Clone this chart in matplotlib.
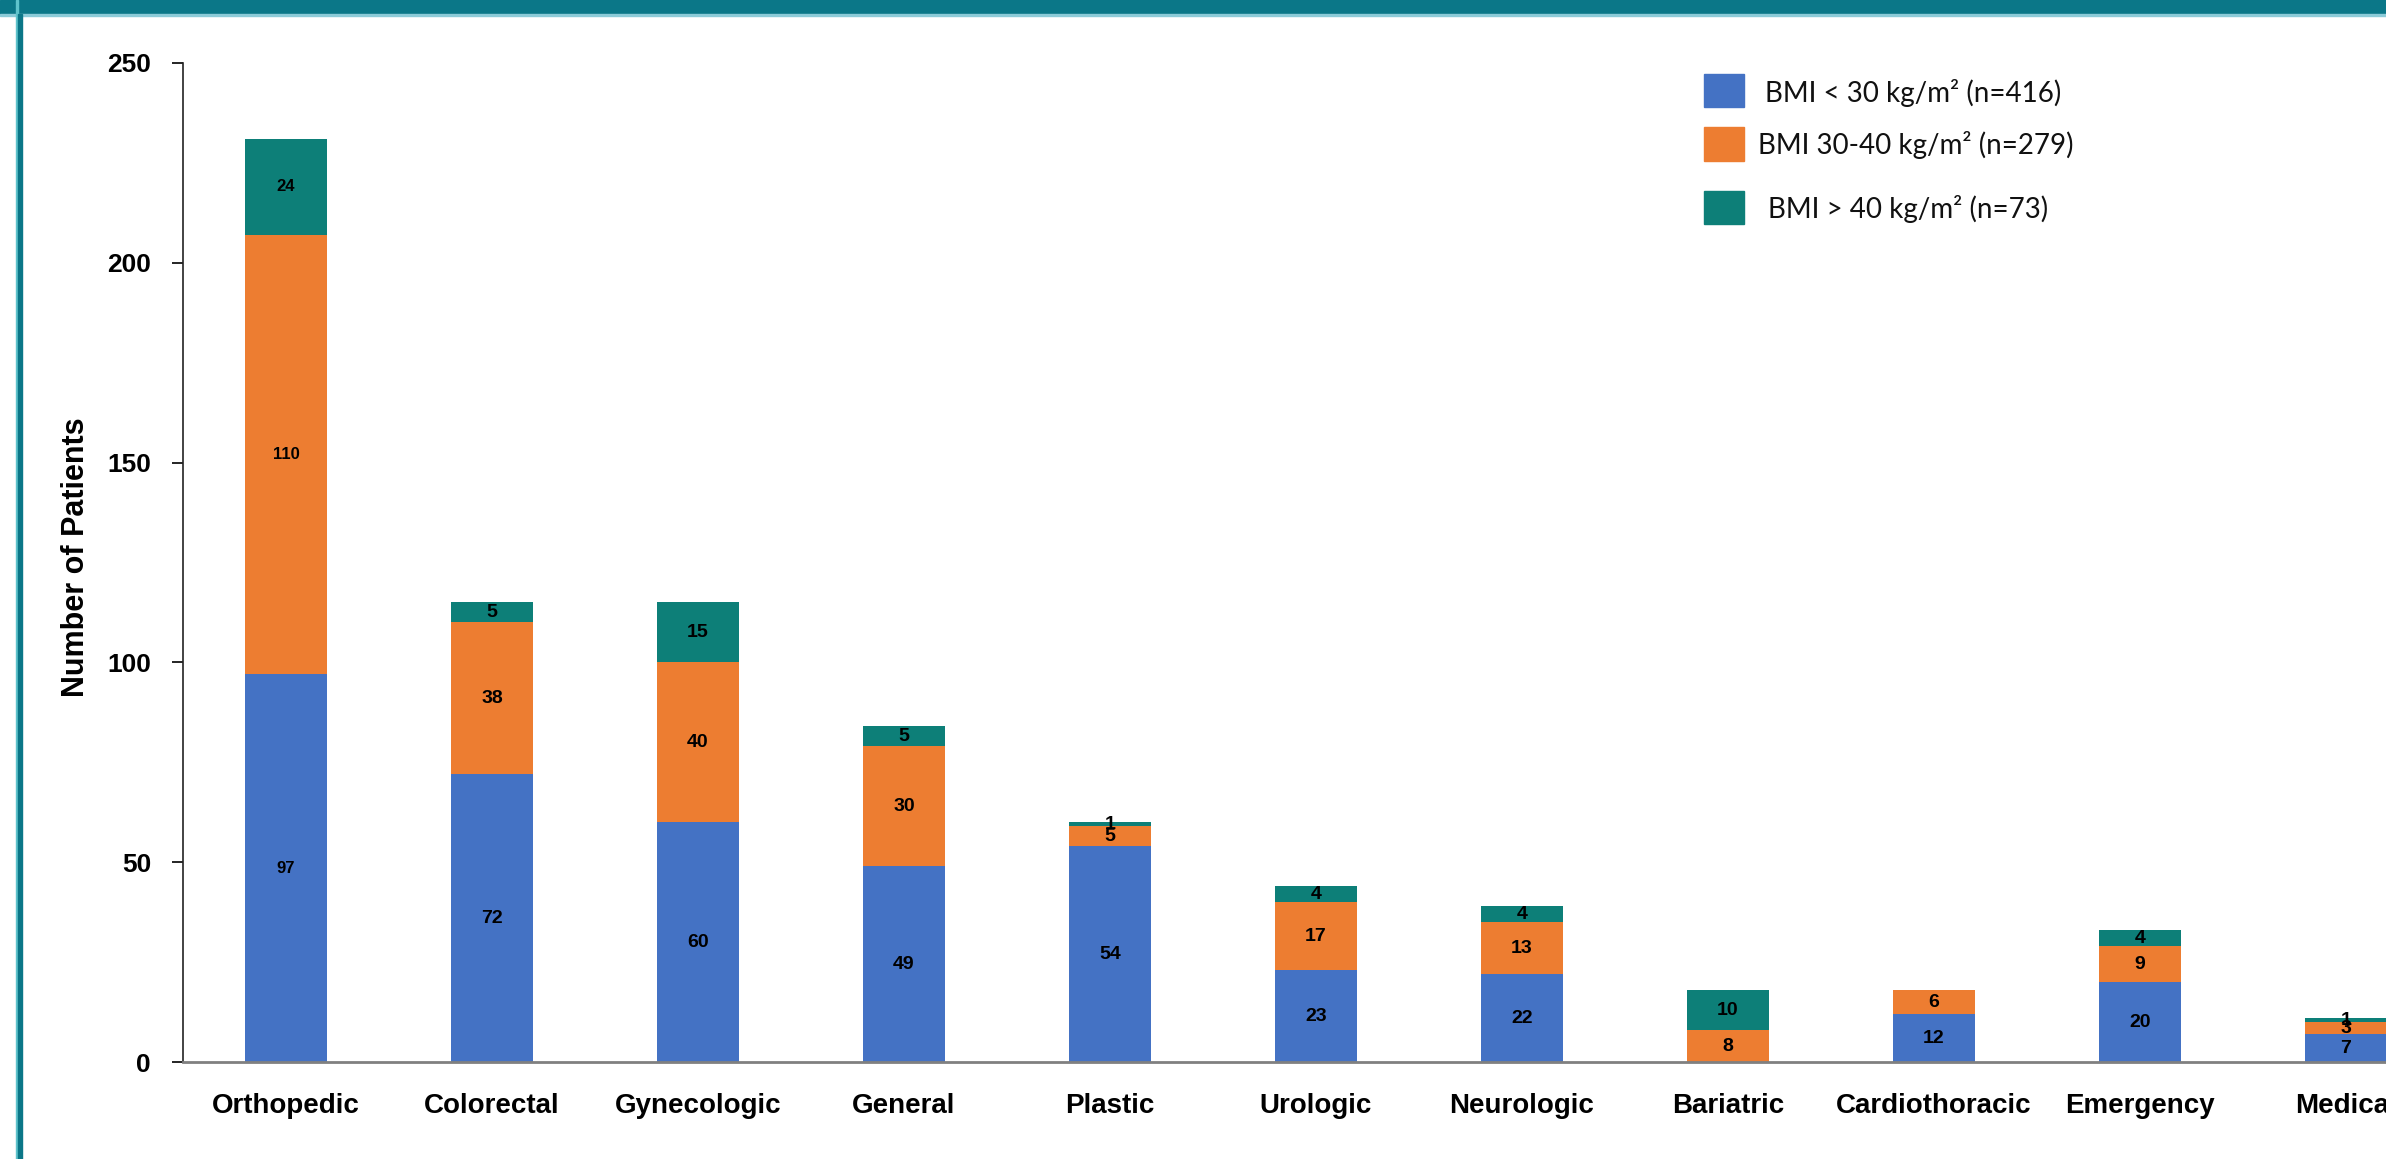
import matplotlib
matplotlib.use("Agg")
import matplotlib.pyplot as plt
from matplotlib import font_manager
from matplotlib.patches import Rectangle

# Patients per surgical service, split by BMI class
services = ["Orthopedic", "Colorectal", "Gynecologic", "General", "Plastic", "Urologic",
            "Neurologic", "Bariatric", "Cardiothoracic", "Emergency", "Medical"]
bmi_under_30 = [97, 72, 60, 49, 54, 23, 22, 0, 12, 20, 7]
bmi_30_40 = [110, 38, 40, 30, 5, 17, 13, 8, 6, 9, 3]
bmi_over_40 = [24, 5, 15, 5, 1, 4, 4, 10, 0, 4, 1]
series_labels = ["BMI < 30 kg/m\u00b2 (n=416)", "BMI 30-40 kg/m\u00b2 (n=279)", "BMI > 40 kg/m\u00b2 (n=73)"]
y_ticks = [0, 50, 100, 150, 200, 250]

BLUE = "#4472C4"
ORANGE = "#ED7D31"
TEAL = "#0D7F78"
FRAME = "#0B7788"
W, H = 2386, 1159

installed = {f.name for f in font_manager.fontManager.ttflist}
NARROW = "Liberation Sans Narrow" if "Liberation Sans Narrow" in installed else "Liberation Sans"
SANS = "Liberation Sans"
LEGEND_FONT = "Lato" if "Lato" in installed else "Open Sans"

fig = plt.figure(figsize=(W / 100, H / 100), dpi=100)
fig.patch.set_facecolor("white")

# axes run past the right edge so the last bar is clipped
ax = fig.add_axes([183 / W, 1 - 1062 / H, 11 * 206 / W, 999 / H])

x = range(len(services))
colors = [BLUE, ORANGE, TEAL]
bottom = [0] * len(services)
for vals, col in zip([bmi_under_30, bmi_30_40, bmi_over_40], colors):
    ax.bar(x, vals, width=0.4, bottom=bottom, color=col, zorder=2)
    for i, v in enumerate(vals):
        if v == 0:
            continue
        if i == 0:
            ax.text(i, bottom[i] + v / 2, str(v), ha="center", va="center",
                    fontsize=12, fontweight="bold", family=SANS, zorder=3)
        else:
            ax.text(i, bottom[i] + v / 2, str(v), ha="center", va="center",
                    fontsize=14, fontweight="bold", family=NARROW, zorder=3)
    bottom = [b + v for b, v in zip(bottom, vals)]

ax.set_xlim(-0.5, 10.5)
ax.set_ylim(0, 250)
ax.set_yticks(y_ticks)
ax.set_xticks(list(x))
ax.set_xticklabels(services, fontsize=20, fontweight="bold", family=SANS)
for lbl in ax.get_yticklabels():
    lbl.set_fontsize(19)
    lbl.set_fontweight("bold")
    lbl.set_family(SANS)
ax.tick_params(axis="y", length=8, width=1.2, pad=15)
ax.tick_params(axis="x", length=0, pad=22)

for side in ["top", "right"]:
    ax.spines[side].set_visible(False)
ax.spines["left"].set_linewidth(1.2)
ax.spines["left"].set_color("#222222")
ax.spines["bottom"].set_linewidth(2)
ax.spines["bottom"].set_color("#808080")

ax.set_ylabel("Number of Patients", fontsize=22, fontweight="bold", family=NARROW)
ax.yaxis.set_label_coords(-0.0406, 0.505)

# header band and left frame line
fig.patches.append(Rectangle((0, 1 - 14 / H), 1, 14 / H, transform=fig.transFigure,
                             color=FRAME, zorder=5))
fig.patches.append(Rectangle((0, 1 - 16 / H), 1, 2 / H, transform=fig.transFigure,
                             color="#8ccbd8", zorder=5))
fig.patches.append(Rectangle((16 / W, 0), 2 / W, 1, transform=fig.transFigure,
                             color="#5fc3cc", zorder=5))
fig.patches.append(Rectangle((18 / W, 0), 4 / W, 1 - 14 / H, transform=fig.transFigure,
                             color=FRAME, zorder=5))

# legend drawn by hand, rows are not evenly spaced
legend_rows = [(74, 107, 93, 1765), (127, 161, 145, 1758), (191, 224, 209, 1768)]
for (top, bot, ty, tx), col, text in zip(legend_rows, colors, series_labels):
    fig.patches.append(Rectangle((1704 / W, 1 - bot / H), 40 / W, (bot - top) / H,
                                 transform=fig.transFigure, color=col))
    fig.text(tx / W, 1 - ty / H, text, fontsize=20, family=LEGEND_FONT,
             ha="left", va="center", color="#111111")

fig.savefig("out.png", dpi=100)
